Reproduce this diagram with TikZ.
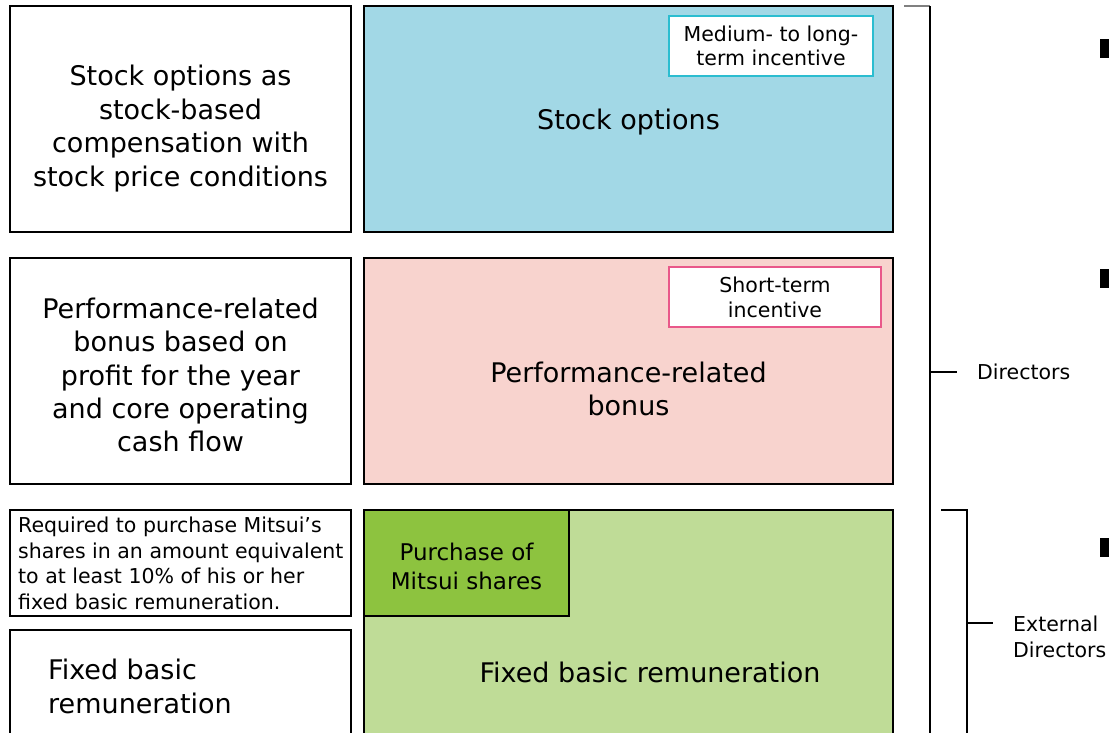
\documentclass[tikz,border=0pt]{standalone}
\usepackage{fontspec}
\setmainfont{DejaVu Sans}
\definecolor{optblue}{HTML}{A2D8E6}
\definecolor{optcyan}{HTML}{2BBDD0}
\definecolor{bonuspink}{HTML}{F8D3CE}
\definecolor{bonusrose}{HTML}{E9588A}
\definecolor{fixgreen}{HTML}{BFDC97}
\definecolor{buygreen}{HTML}{8DC33F}

\begin{document}
\begin{tikzpicture}[
  x=1pt,
  y=-1pt,
  pay box/.style={
    draw,
    line width=2.5pt,
    minimum width=529pt,
    inner sep=0pt,
    align=center,
    font=\fontsize{27}{33}\selectfont
  },
  rule box/.style={
    draw,
    line width=2pt,
    minimum width=341pt,
    inner sep=0pt,
    align=center,
    font=\fontsize{27}{33.3}\selectfont
  },
  tag box/.style={
    draw,
    fill=white,
    line width=2pt,
    minimum height=60pt,
    inner sep=0pt,
    align=center,
    font=\fontsize{20.5}{25}\selectfont
  },
  side label/.style={
    anchor=west,
    inner sep=0pt,
    inner xsep=20pt,
    align=left,
    font=\fontsize{20.5}{26}\selectfont
  },
  bracket/.style={
    line width=1.5pt
  },
]
\useasboundingbox (0,0) rectangle (1109,732);
\clip (0,0) rectangle (1109,732);

% left column
\node[rule box, minimum height=226pt] (ruleopt) at (180.5,119) {};
\node[font=\fontsize{27}{33.5}\selectfont, align=center] at (180.5,128.5)
  {Stock options as\\stock-based\\compensation with\\stock price conditions};
\node[rule box, minimum height=226pt] (rulebonus) at (180.5,371) {};
\node[font=\fontsize{27}{33.3}\selectfont, align=center] at (180.5,375)
  {Performance-related\\bonus based on\\profit for the year\\and core operating\\cash flow};
\node[rule box, minimum height=106pt] (rulebuy) at (180.5,563) {};
\node[anchor=west, inner sep=0pt, align=left, font=\fontsize{20.5}{25.6}\selectfont]
  at (18,563.5) {Required to purchase Mitsui’s\\shares in an amount equivalent\\to at least 10\% of his or her\\fixed basic remuneration.};
\node[rule box, minimum height=130pt] (rulefix) at (180.5,695) {};
\node[anchor=west, inner sep=0pt, align=left, font=\fontsize{27}{34}\selectfont]
  at (48,686) {Fixed basic\\remuneration};

% middle column
\node[pay box, fill=optblue, minimum height=226pt] (stock) at (628.5,119) {};
\node[font=\fontsize{27}{33}\selectfont] at (628.5,122) {Stock options};
\node[tag box, draw=optcyan, minimum width=204pt] (midlong) at (771,46)
  {Medium- to long-\\[-1pt]term incentive};

\node[pay box, fill=bonuspink, minimum height=226pt] (bonus) at (628.5,371) {};
\node[font=\fontsize{27}{33}\selectfont, align=center] at (628.5,389)
  {Performance-related\\bonus};
\node[tag box, draw=bonusrose, minimum width=212pt] (short) at (775,297)
  {Short-term\\incentive};

\node[pay box, fill=fixgreen, minimum height=250pt] (fixed) at (628.5,635) {};
\node[font=\fontsize{27}{33}\selectfont] at (650,672) {Fixed basic remuneration};
\node[pay box, fill=buygreen, minimum width=205pt, minimum height=106pt] (buy) at (466.5,563) {};
\node[font=\fontsize{23}{29}\selectfont, align=center] at (466.5,566)
  {Purchase of\\Mitsui shares};

% brackets
\draw[bracket, gray] (904,6) -- (930,6);
\draw[bracket] (930,6) -- (930,740);
\node[side label] (dir) at (957,372) {Directors};
\coordinate (dirtick) at (930,372);
\draw[bracket] (dirtick) -- (dir);

\draw[bracket] (941,510) -- (967,510) -- (967,740);
\node[side label] (extdir) at (993,636.5) {External\\Directors};
\coordinate (exttick) at (967,623);
\draw[bracket] (exttick) -- (993,623);

% cut-off markers at the right edge
\foreach \y in {39,269,538}
  \fill (1100,\y) rectangle (1110,\y+19);
\end{tikzpicture}
\end{document}
